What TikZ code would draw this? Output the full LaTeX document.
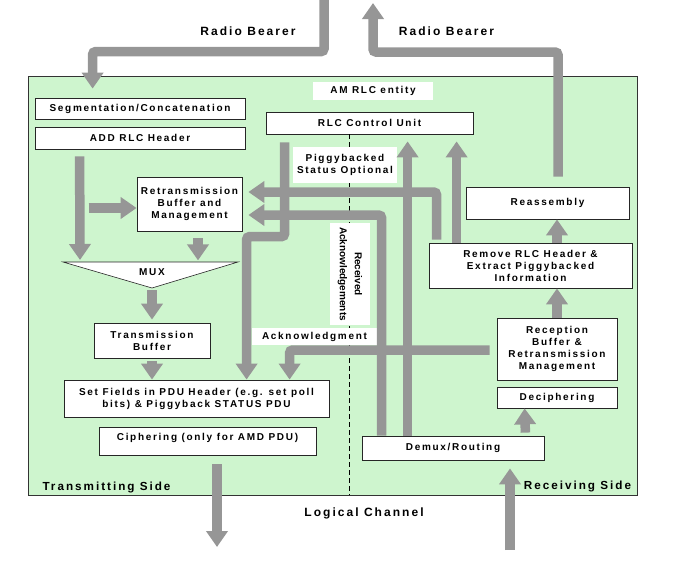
\documentclass[tikz,border=0pt]{standalone}
\usepackage{fontspec}
\setmainfont{Liberation Sans}
\newfontfamily\spaced[LetterSpace=17]{Liberation Sans}
\usetikzlibrary{arrows.meta,positioning,calc}
\definecolor{pipegray}{RGB}{150,150,150}
\definecolor{entitygreen}{RGB}{206,245,206}
\tikzset{basic/.style={draw=black!85,fill=white,line width=0.8pt,align=center,inner sep=1pt,font={\spaced\bfseries\fontsize{10pt}{12pt}\selectfont}}}
\tikzset{note/.style={fill=white,inner sep=1pt,align=center,font={\spaced\bfseries\fontsize{10pt}{12pt}\selectfont}}}
\tikzset{outer/.style={font={\spaced\bfseries\fontsize{12pt}{14pt}\selectfont}}}
\tikzset{side/.style={font={\spaced\bfseries\fontsize{11.7pt}{14pt}\selectfont}}}
\tikzset{pipe/.style={draw=pipegray,line width=9.5pt,rounded corners=3pt,-{Triangle[width=21pt,length=16pt]}}}
\tikzset{divider/.style={draw,dash pattern=on 5pt off 3pt,line width=1.6pt}}

\begin{document}
\begin{tikzpicture}[x=1pt,y=-1pt,node distance=30pt]
    \useasboundingbox (0,0) rectangle (674,562);
    \node[draw=black!80,fill=entitygreen,line width=0.8pt,inner sep=0pt,minimum width=609pt,minimum height=419pt] (am) at (332.5,285.5) {};

    \coordinate (rbin) at (324,0);
    \coordinate (rbout) at (373,3);
    \coordinate (lchout) at (217,547);
    \coordinate (lchin) at (510,550);

    \node[outer] (rbleft) at (248,31) {Radio Bearer};
    \node[outer] (rbright) at (446.5,31) {Radio Bearer};
    \node[outer] (lch) at (364,513) {Logical Channel};
    \node[side] (txside) at (106.5,487) {Transmitting Side};
    \node[side] (rxside) at (577.5,486) {Receiving Side};

    % transmitting side
    \node[basic,minimum width=210pt,minimum height=21pt] (seg) at (140,108.5) {Segmentation/Concatenation};
    \node[basic,minimum width=210pt,minimum height=22pt,below of=seg,node distance=29.5pt] (hdr) {ADD RLC Header};
    \node[basic,minimum width=105pt,minimum height=54pt] (retx) at (189.5,204) {Retransmission\\Buffer and\\Management};
    \path[draw=black!85,fill=white,line width=0.6pt] (63,262) coordinate (muxl) -- (238,262) coordinate (muxr) -- (152,288) coordinate (muxb) -- cycle;
    \node[note,fill=none] (mux) at (152,272.5) {MUX};
    \node[basic,minimum width=116pt,minimum height=35pt] (txbuf) at (152,340.5) {Transmission\\Buffer};
    \node[basic,minimum width=265pt,minimum height=37pt] (setf) at (196.5,398.5) {Set Fields in PDU Header (e.g. set poll\\bits) \& Piggyback STATUS PDU};
    \node[basic,minimum width=217pt,minimum height=28pt,text depth=8pt] (ciph) at (207.5,441) {Ciphering (only for AMD PDU)};

    % control unit and labels
    \node[note,minimum width=120pt,minimum height=18pt] (entity) at (373,91) {AM RLC entity};
    \node[basic,minimum width=207pt,minimum height=22pt] (ctrl) at (369.5,123) {RLC Control Unit};
    \coordinate (divtop) at ($(ctrl.south west)+(84,0)$);
    \path[divider] (divtop) -- (divtop |- am.south);
    \node[note,minimum width=104pt,minimum height=36pt] (piggy) at (345,165) {Piggybacked\\Status Optional};
    \node[note,rotate=-90,minimum width=102pt,minimum height=40pt,font={\bfseries\fontsize{10pt}{15pt}\selectfont}] (recack) at (350,274) {Received\\Acknowledgements};
    \node[note,minimum width=125pt,minimum height=17pt] (ack) at (314.5,336.5) {Acknowledgment};

    % receiving side
    \node[basic,minimum width=163pt,minimum height=32pt] (reasm) at (547.5,203) {Reassembly};
    \node[basic,minimum width=203pt,minimum height=45pt] (remove) at (530.5,265.5) {Remove RLC Header \&\\Extract Piggybacked\\Information};
    \node[basic,minimum width=120pt,minimum height=62pt] (rxbuf) at (557,349) {Reception\\Buffer \&\\Retransmission\\Management};
    \node[basic,minimum width=120pt,minimum height=21pt,below of=rxbuf,node distance=48.5pt] (deciph) {Deciphering};
    \node[basic,minimum width=182pt,minimum height=24pt] (demux) at (453,448) {Demux/Routing};

        \path[pipe] (rbin) |- ($(seg.north west)+(58,-46)$) -- ($(seg.north west)+(58,-9)$);
        \path[pipe] ($(hdr.south west)+(45,7)$) -- ($(muxl)+(17,-2)$);
        \path[pipe] ($(retx.west)+(-48,4)$) -- ($(retx.west)+(0,4)$);
        \path[pipe] ($(retx.south)+(8.5,7)$) -- ($(retx.south)+(8.5,29)$);
        \path[pipe] ($(muxb)+(0,2)$) -- ($(txbuf.north)+(0,-3)$);
        \path[pipe] ($(txbuf.south)+(0,3)$) -- (txbuf.south |- setf.north);
        \path[pipe] ($(ciph.south)+(9.5,9)$) -- (lchout);
        \path[pipe] ($(ctrl.south west)+(19,8)$) |- ($(setf.north west)+(183,-143)$) -- ($(setf.north west)+(183,0)$);
        \path[pipe] ($(remove.north west)+(8,-3)$) |- ($(retx.east)+(6,-12)$);
        \path[pipe] ($(demux.north west)+(20,0)$) |- ($(retx.east)+(6,11)$);
        \path[pipe] ($(demux.north west)+(46,0)$) -- ($(ctrl.south west)+(142,7)$);
        \path[pipe] ($(remove.north west)+(28,0)$) -- ($(ctrl.south west)+(191,7)$);
        \path[pipe] ($(rxbuf.west)+(-7,1)$) -| ($(setf.north west)+(226,0)$);
        \path[pipe] (lchin) -- ($(demux.south)+(57,8)$);
        \path[pipe] ($(demux.north east)+(-19,-3)$) -- ($(deciph.south west)+(28,0)$);
        \path[pipe] (rxbuf.north) -- (rxbuf.north |- remove.south);
        \path[pipe] (remove.north -| rxbuf.north) -- (reasm.south -| rxbuf.north);
        \path[pipe] ($(reasm.north)+(10.5,-10)$) |- ($(rbout)+(0,49)$) -- (rbout);
  \end{tikzpicture}
\end{document}
